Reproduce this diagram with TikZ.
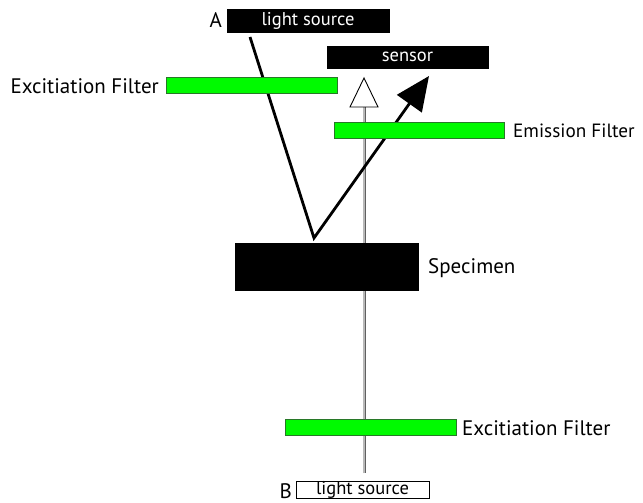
\documentclass[tikz,border=0pt]{standalone}
\usepackage{fontspec}
\setmainfont{PT Sans}
\usetikzlibrary{arrows.meta}

\definecolor{filtergreen}{RGB}{0,250,0}
\definecolor{filteredge}{RGB}{40,120,40}

\tikzset{
  lbl/.style={inner sep=0pt, font=\fontsize{21}{24}\selectfont},
  darkbox/.style={fill=black, draw=black, text=white, inner sep=0pt,
    font=\fontsize{18.5}{21}\selectfont},
  lightbox/.style={fill=white, draw=black, line width=0.8pt, text=black,
    inner sep=0pt, font=\fontsize{18.5}{21}\selectfont},
  filterbar/.style={fill=filtergreen, draw=filteredge, line width=0.9pt,
    inner sep=0pt, minimum height=16pt},
  ray/.style={line width=2.8pt, black},
  axisline/.style={draw=gray!75!black, line width=0.7pt,
    double=gray!55, double distance=1.6pt},
}

\begin{document}
\begin{tikzpicture}[x=1pt, y=-1pt]
  \useasboundingbox (0,0) rectangle (643,503);

  % optical axis (lower source up to the sensor)
  \coordinate (axisBottom) at (364,473);
  \coordinate (axisTop) at (364,107);
  \draw[axisline] (axisBottom) -- (axisTop);
  \coordinate (whiteTip) at (364,78);
  \draw[fill=white, draw=black, line width=0.9pt]
    (whiteTip) -- (350,107) -- (378,107) -- cycle;

  % reflected path from source A via the specimen to the sensor
  \coordinate (rayStart) at (250,37);
  \coordinate (bounce) at (314,238);
  \coordinate (blackTip) at (429,76);
  \draw[ray, line join=miter, -{Triangle[length=34pt, width=30pt]}]
    (rayStart) -- (bounce) -- (blackTip);

  % sources, sensor, specimen
  \node[darkbox, minimum width=162pt, minimum height=23pt] (srcA) at (308,20.5) {light source};
  \node[darkbox, minimum width=161pt, minimum height=22pt] (sensor) at (407.5,57) {sensor};
  \node[fill=black, draw=black, minimum width=183pt, minimum height=47pt, inner sep=0pt]
    (specimen) at (326.5,266.5) {};
  \node[lightbox, minimum width=133pt, minimum height=16pt] (srcB) at (362.5,490) {light source};

  % filters
  \node[filterbar, minimum width=171pt] (exTop) at (251.5,85) {};
  \node[filterbar, minimum width=170pt] (emFilter) at (419,130) {};
  \node[filterbar, minimum width=171pt] (exBottom) at (370.5,427) {};

  % labels
  \node[lbl, anchor=east] (labA) at (222,20) {A};
  \node[lbl, anchor=east] (labB) at (292,491) {B};
  \node[lbl, anchor=east] (labExTop) at (159,86) {Excitiation Filter};
  \node[lbl, anchor=west, font=\fontsize{19.2}{22}\selectfont] (labEm) at (513,131) {Emission Filter};
  \node[lbl, anchor=west] (labSpec) at (428,268) {Specimen};
  \node[lbl, anchor=west] (labExBot) at (462,428) {Excitiation Filter};
\end{tikzpicture}
\end{document}
